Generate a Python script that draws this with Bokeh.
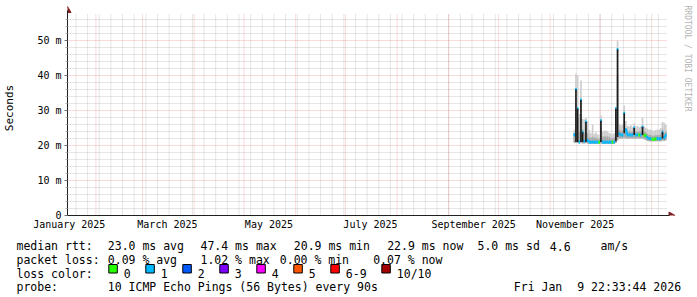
import math
import numpy as np
from datetime import datetime, timedelta
from bokeh.plotting import figure
from bokeh.layouts import column
from bokeh.models import ColumnDataSource, FixedTicker, Range1d
from bokeh.core.properties import value
from bokeh.embed import file_html
from bokeh.resources import INLINE

# ---------------- data ----------------
graph_end = datetime(2026, 1, 9, 22, 33, 44)
graph_span_days = 360
first_day = datetime(2025, 11, 15)   # first day with data, one value per day

median_ms = [23.1, 36.0, 30.5, 21.0, 33.0, 23.8, 21.2, 26.7, 21.5, 21.0,
             20.9, 21.0, 20.9, 21.0, 20.9, 20.9, 27.1, 21.0, 20.9, 20.9,
             21.0, 20.9, 20.9, 20.9, 21.0, 30.5, 47.4, 23.3, 23.0, 23.0,
             29.2, 24.5, 23.0, 23.1, 23.0, 23.0, 25.0, 23.0, 23.1, 23.0,
             23.0, 25.3, 22.9, 22.8, 22.2, 22.0, 21.9, 21.8, 21.8, 21.9,
             22.0, 21.9, 22.0, 23.8, 22.2, 22.9]
smoke_min_ms = [20.8, 20.8, 20.8, 20.6, 20.8, 20.6, 20.6, 20.7, 20.6, 20.5,
                20.5, 20.5, 20.5, 20.5, 20.5, 20.5, 20.6, 20.5, 20.5, 20.5,
                20.5, 20.5, 20.5, 20.5, 20.5, 20.7, 21.5, 22.0, 22.0, 22.0,
                22.2, 22.0, 22.0, 22.0, 22.0, 22.0, 22.0, 22.0, 22.0, 22.0,
                22.0, 22.0, 21.8, 21.6, 21.3, 21.2, 21.2, 21.2, 21.2, 21.2,
                21.2, 21.2, 21.2, 21.4, 21.3, 21.5]
smoke_mid_ms = [23.5, 30.0, 28.0, 24.0, 29.0, 24.5, 23.5, 25.0, 23.5, 22.3,
                22.2, 22.5, 22.2, 22.3, 22.0, 22.0, 25.0, 22.5, 22.6, 22.6,
                22.6, 22.4, 22.1, 22.1, 22.3, 26.0, 40.0, 24.5, 24.2, 24.3,
                27.0, 25.0, 24.0, 24.0, 24.0, 24.0, 24.8, 24.0, 24.0, 24.0,
                24.0, 25.5, 24.0, 23.8, 23.3, 23.0, 23.0, 22.8, 22.8, 22.9,
                23.0, 23.0, 23.2, 24.5, 23.5, 24.0]
smoke_max_ms = [24.5, 40.5, 40.0, 29.0, 38.6, 27.6, 27.5, 28.0, 27.0, 24.5,
                23.5, 26.0, 23.3, 23.8, 23.2, 23.0, 28.6, 24.0, 24.2, 24.3,
                24.0, 23.6, 23.4, 23.2, 23.5, 31.0, 50.0, 26.2, 25.7, 26.0,
                31.4, 27.0, 25.6, 25.4, 25.8, 25.3, 26.3, 25.5, 25.6, 25.2,
                25.4, 28.1, 25.5, 25.0, 24.8, 24.5, 24.6, 24.3, 24.2, 24.4,
                24.6, 24.5, 25.0, 26.7, 26.5, 26.0]
core_lo_ms = [None, 21.0, 21.0, None, 21.0, 21.0, None, 21.0, None, None,
              None, None, None, None, None, None, 21.0, None, None, None,
              None, None, None, None, None, 21.2, 22.4, None, None, None,
              23.5, None, None, None, None, None, 23.0, None, None, None,
              None, 23.0, None, None, None, None, None, None, None, None,
              None, None, None, 22.0, None, None]
core_hi_ms = [None, 36.0, 30.5, None, 33.0, 23.8, None, 26.7, None, None,
              None, None, None, None, None, None, 27.1, None, None, None,
              None, None, None, None, None, 30.5, 47.4, None, None, None,
              29.2, None, None, None, None, None, 25.0, None, None, None,
              None, 25.3, None, None, None, None, None, None, None, None,
              None, None, None, 23.8, None, None]
lost_pings = [1, 1, 1, 1, 1, 1, 1, 1, 1, 1,
              1, 1, 1, 1, 1, 0, 1, 1, 1, 1,
              1, 1, 1, 0, 1, 1, 1, 1, 1, 1,
              1, 1, 1, 1, 1, 1, 1, 1, 1, 0,
              1, 1, 0, 0, 1, 1, 1, 0, 0, 0,
              1, 1, 1, 1, 1, 1]

loss_labels = ["0", "1", "2", "3", "4", "5", "6-9", "10/10"]
loss_colors = ["#26ff00", "#00b8ff", "#0059ff", "#7e00ff", "#ff00ff",
               "#ff5500", "#ff0000", "#a10000"]

y_major = [0, 10, 20, 30, 40, 50]
y_tick_labels = ["0", "10 m", "20 m", "30 m", "40 m", "50 m"]
x_label_months = [(2025, 1), (2025, 3), (2025, 5), (2025, 7), (2025, 9), (2025, 11)]
x_tick_labels = ["January 2025", "March 2025", "May 2025", "July 2025",
                 "September 2025", "November 2025"]

legend_rtt = [("median rtt:", 16), ("23.0 ms avg", 107.3), ("47.4 ms max", 200),
              ("20.9 ms min", 293.3), ("22.9 ms now", 386.7), ("5.0 ms sd", 477),
              ("4.6", 549.3), ("am/s", 600)]
legend_loss = [("packet loss:", 16), ("0.09 % avg", 107.3), ("1.02 % max", 200),
               ("0.00 % min", 279.3), ("0.07 % now", 372.7)]
legend_probe = [("probe:", 16), ("10 ICMP Echo Pings (56 Bytes) every 90s", 107.3),
                ("Fri Jan", 513.3), ("9 22:33:44 2026", 576.7)]

# ---------------- layout constants ----------------
EPOCH = datetime(1970, 1, 1)
DAY_MS = 86400000.0
W = 697
TOP_H = 232            # main figure height (plot + x labels)
LEG_H = 297 - TOP_H    # legend strip height
FRAME_L = 66           # left edge of plotting area (px)
PLOT_R = 666           # right edge of the time axis (px)
PLOT_T = 13            # top of the value axis (px)
ZERO_Y = 215           # pixel row of value 0
MONO = "DejaVu Sans Mono"


def ms(dt):
    return (dt - EPOCH).total_seconds() * 1000.0


def loss_color(k):
    if k <= 5:
        return loss_colors[k]
    if k <= 9:
        return loss_colors[6]
    return loss_colors[7]


graph_start = graph_end - timedelta(days=graph_span_days)
t0, t1 = ms(graph_start), ms(graph_end)
px_per_day = (PLOT_R - FRAME_L) / graph_span_days
px_per_ms_unit = 3.5
y_top = (ZERO_Y - PLOT_T) / px_per_ms_unit


def px_to_t(px):
    return t0 + (px - FRAME_L) / px_per_day * DAY_MS


def py_to_v(py):
    return (ZERO_Y - py) / px_per_ms_unit


# ---------------- main figure ----------------
p = figure(width=W, height=TOP_H, x_axis_type="datetime",
           x_range=Range1d(t0, px_to_t(W)), y_range=Range1d(0, py_to_v(0)),
           min_border_left=FRAME_L, min_border_right=0, min_border_top=0,
           min_border_bottom=TOP_H - ZERO_Y,
           output_backend="svg", toolbar_location=None,
           background_fill_color="#ffffff", border_fill_color="#ffffff")
p.outline_line_color = None
p.grid.visible = False
p.frame_align = False

# grid lines (drawn as dotted segments limited to the plotting area)
month_starts = [ms(datetime(2025, m, 1)) for m in range(2, 13)] + [ms(datetime(2026, 1, 1))]
mondays = []
d = datetime(2025, 1, 20)
while d < graph_end:
    mondays.append(ms(d))
    d += timedelta(days=7)
y_minor = [v for v in range(2, 58, 2) if v % 10 != 0]

minor_col, minor_alpha = "#8f8f8f", 0.45
major_col, major_alpha = "#de4f4f", 0.4
p.segment(x0=mondays, x1=mondays, y0=0, y1=y_top, line_color=minor_col,
          line_alpha=minor_alpha, line_dash="1 1", line_width=1)
p.segment(x0=t0, x1=t1, y0=y_minor, y1=y_minor, line_color=minor_col,
          line_alpha=minor_alpha, line_dash="1 1", line_width=1)
p.segment(x0=month_starts, x1=month_starts, y0=0, y1=y_top, line_color=major_col,
          line_alpha=major_alpha, line_dash="1 1", line_width=1)
p.segment(x0=t0, x1=t1, y0=y_major[1:], y1=y_major[1:], line_color=major_col,
          line_alpha=major_alpha, line_dash="1 1", line_width=1)

# x axis
label_ticks = [int(ms(datetime(y, m, 1) + timedelta(days=15))) for (y, m) in x_label_months]
p.xaxis.ticker = FixedTicker(ticks=label_ticks, minor_ticks=[])
p.xaxis.major_label_overrides = {t: s for t, s in zip(label_ticks, x_tick_labels)}
p.xaxis.bounds = (t0, px_to_t(669))
p.xaxis.major_tick_out = 0
p.xaxis.major_tick_in = 0
p.xaxis.minor_tick_out = 0
p.xaxis.minor_tick_in = 0
p.xaxis.major_label_standoff = 3
p.xaxis.axis_line_color = "#202020"

# y axis
p.yaxis.ticker = FixedTicker(ticks=y_major, minor_ticks=y_minor)
p.yaxis.major_label_overrides = {v: s for v, s in zip(y_major, y_tick_labels)}
p.yaxis.bounds = (0, py_to_v(10))
p.yaxis.major_tick_out = 3
p.yaxis.major_tick_in = 0
p.yaxis.minor_tick_out = 2
p.yaxis.minor_tick_in = 0
p.yaxis.major_tick_line_color = "#707070"
p.yaxis.minor_tick_line_color = "#b0b0b0"
p.yaxis.major_label_standoff = 3
p.yaxis.axis_line_color = "#202020"
p.yaxis.axis_label = "Seconds"
p.yaxis.axis_label_standoff = 18
p.yaxis.axis_label_text_font = MONO
p.yaxis.axis_label_text_font_size = "11px"
p.yaxis.axis_label_text_font_style = "normal"
p.yaxis.axis_label_text_color = "#000000"
for ax in (p.xaxis[0], p.yaxis[0]):
    ax.major_label_text_font = MONO
    ax.major_label_text_font_size = "10px"
    ax.major_label_text_color = "#000000"

# data
n = len(median_ms)
day_start = np.array([ms(first_day + timedelta(days=i)) for i in range(n)])
day_mid = day_start + DAY_MS / 2
med = np.array(median_ms, dtype=float)
colors = [loss_color(k) for k in lost_pings]
has_core = [c is not None for c in core_hi_ms]

src = ColumnDataSource(dict(x=day_mid, smin=smoke_min_ms, smid=smoke_mid_ms, smax=smoke_max_ms,
                            clo=np.array(core_lo_ms, dtype=float),
                            chi=np.array(core_hi_ms, dtype=float)))
p.vbar(x="x", width=DAY_MS, bottom="smin", top="smax", source=src,
       fill_color="#cdcdcd", line_color=None)
p.vbar(x="x", width=DAY_MS, bottom="smin", top="smid", source=src,
       fill_color="#a9a9a9", line_color=None)

seg = ColumnDataSource(dict(x0=day_start, x1=day_start + DAY_MS, y=med, c=colors))
p.segment(x0="x0", y0="y", x1="x1", y1="y", source=seg, line_color="c", line_width=3)
ci = [i for i in range(1, n) if not has_core[i] and not has_core[i - 1]]
con = ColumnDataSource(dict(x=day_start[ci], ya=med[[i - 1 for i in ci]], yb=med[ci],
                            c=[colors[i] for i in ci]))
p.segment(x0="x", y0="ya", x1="x", y1="yb", source=con, line_color="c", line_width=2)

p.vbar(x="x", width=DAY_MS, bottom="clo", top="chi", source=src,
       fill_color="#1c1c1c", line_color=None)

# axis arrow heads
arrow_col = "#801f1f"
p.scatter(x=[t0], y=[py_to_v(10)], marker="triangle", size=7,
          fill_color=arrow_col, line_color=arrow_col)
p.scatter(x=[px_to_t(670.5)], y=[0], marker="triangle", size=7, angle=-math.pi / 2,
          fill_color=arrow_col, line_color=arrow_col)

# watermark
p.text(x=[px_to_t(686.5)], y=[py_to_v(5)], text=["RRDTOOL / TOBI OETIKER"],
       angle=-math.pi / 2, text_font=value(MONO), text_font_size=value("8px"),
       text_color="#b3b3b3", text_align="left", text_baseline="middle")

# ---------------- legend strip ----------------
q = figure(width=W, height=LEG_H, x_range=Range1d(0, W), y_range=Range1d(297, TOP_H),
           min_border_left=0, min_border_right=0, min_border_top=0, min_border_bottom=0,
           x_axis_location=None, y_axis_location=None,
           output_backend="svg", toolbar_location=None,
           background_fill_color="#ffffff", border_fill_color="#ffffff")
q.outline_line_color = None
q.grid.visible = False
q.frame_align = False

rows_y = [245.7, 259.3, 273.0, 286.7]
tx, ty, tt = [], [], []
for row, items in ((0, legend_rtt), (1, legend_loss), (3, legend_probe)):
    for txt, cx in items:
        tx.append(cx); ty.append(rows_y[row]); tt.append(txt)
tx.append(16); ty.append(rows_y[2]); tt.append("loss color:")

bl, br, bc = [], [], []
cursor = 108.3
for lab, col in zip(loss_labels, loss_colors):
    bl.append(cursor); br.append(cursor + 8.5); bc.append(col)
    tx.append(cursor + 15); ty.append(rows_y[2]); tt.append(lab)
    cursor = cursor + 15 + len(lab) * 7 + 15

q.quad(left=bl, right=br, top=264, bottom=272.5, fill_color=bc,
       line_color="#000000", line_width=1)
q.text(x=tx, y=ty, text=tt, text_font=value(MONO), text_font_size=value("11.5px"),
       text_color="#000000", text_align="left", text_baseline="alphabetic")

open("out.html", "w").write(file_html(column(p, q, spacing=0), INLINE))
